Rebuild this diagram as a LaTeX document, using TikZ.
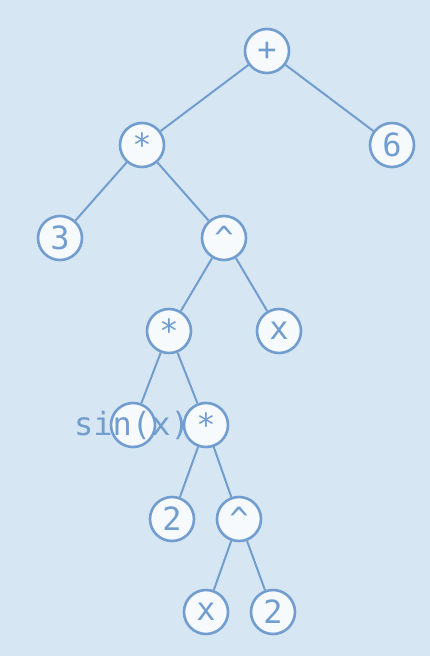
\documentclass[tikz,border=0pt]{standalone}
\usepackage{fontspec}
\setmonofont{DejaVu Sans Mono}
\definecolor{bg}{HTML}{D6E6F3}
\definecolor{ln}{HTML}{729DCF}
\definecolor{fl}{HTML}{F6FAFD}
\begin{document}
\begin{tikzpicture}[x=1pt,y=-1pt,
  tn/.style={circle,draw=ln,fill=fl,line width=2.6pt,minimum size=44pt,inner sep=0pt,
    text=ln,font=\ttfamily\fontsize{32}{32}\selectfont},
  lbl/.style={text=ln,font=\ttfamily\fontsize{32}{32}\selectfont,inner sep=0pt},
  ed/.style={draw=ln,line width=2pt}]
\fill[bg] (0,0) rectangle (430,656);
\useasboundingbox (0,0) rectangle (430,656);
\node[tn] (a) at (267,51) {+};
\node[tn] (b) at (142,145) {*};
\node[tn] (c) at (392,145) {6};
\node[tn] (d) at (60,238) {3};
\node[tn] (e) at (224,238) {\textasciicircum};
\node[tn] (f) at (169,331) {*};
\node[tn] (g) at (279,331) {x};
\node[tn] (h) at (133,425) {};
\node[tn] (i) at (206,425) {*};
\node[tn] (j) at (172,519) {2};
\node[tn] (k) at (239,519) {\textasciicircum};
\node[tn] (l) at (206,612) {x};
\node[tn] (m) at (273,612) {2};
\draw[ed] (a) -- (b);
\draw[ed] (a) -- (c);
\draw[ed] (b) -- (d);
\draw[ed] (b) -- (e);
\draw[ed] (e) -- (f);
\draw[ed] (e) -- (g);
\draw[ed] (f) -- (h);
\draw[ed] (f) -- (i);
\draw[ed] (i) -- (j);
\draw[ed] (i) -- (k);
\draw[ed] (k) -- (l);
\draw[ed] (k) -- (m);
\node[lbl] (hl) at (132,425) {sin(x)};
\end{tikzpicture}
\end{document}
